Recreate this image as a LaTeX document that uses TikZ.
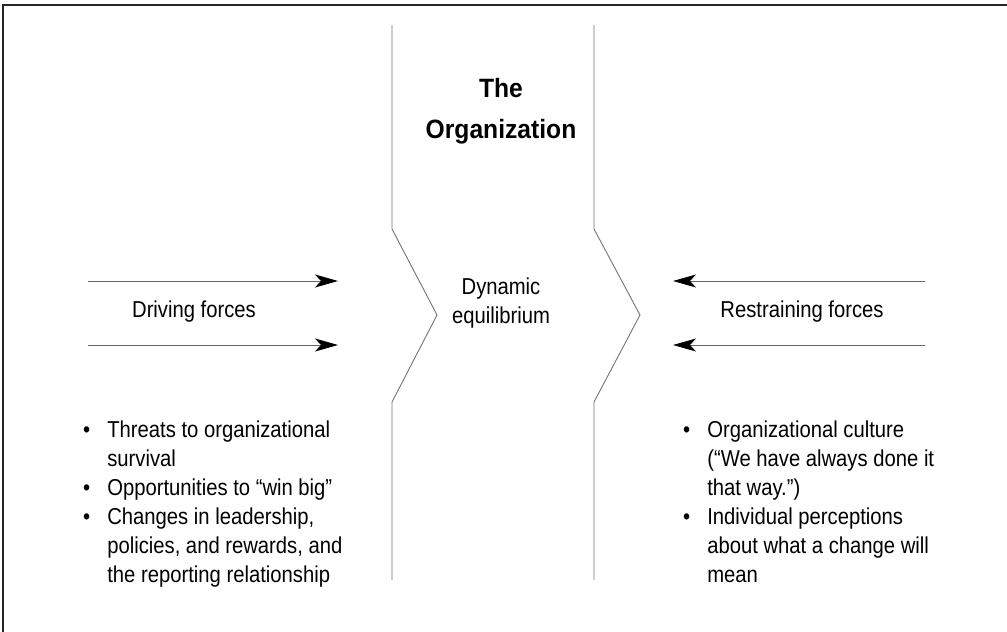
\documentclass[tikz,border=0pt]{standalone}
\usepackage{fontspec}
\setmainfont[FakeStretch=0.88]{Liberation Sans}
\newfontfamily\titlefont[FakeStretch=0.93]{Liberation Sans}
\usetikzlibrary{arrows.meta}

\begin{document}
\begin{tikzpicture}[
x=1pt, y=-1pt,
title/.style={font=\titlefont\bfseries\fontsize{26.5}{41}\selectfont, align=center, inner sep=0pt},
label/.style={font=\fontsize{23}{29}\selectfont, align=center, inner sep=0pt},
list/.style={font=\fontsize{23}{29}\selectfont, anchor=base west, inner sep=0pt},
wall/.style={draw=black!55, line width=0.9pt},
arrow/.style={-{Stealth[length=23pt, width=13pt, inset=6pt, color=black]}, draw=black!60, line width=1pt}
]

\useasboundingbox (0,0) rectangle (1007,632);
\draw[line width=2pt, black!85] (3,632) -- (3,5) -- (1007,5);

\draw[wall] (392,25) -- (392,229) -- (437,315) -- (392,402) -- (392,580);
\draw[wall] (594,25) -- (594,229) -- (640,315) -- (594,402) -- (594,580);

\node[title] (org) at (501,111) {The\\Organization};
\node[label] (equil) at (501,303) {Dynamic\\equilibrium};
\node[label] (driving) at (194,312) {Driving forces};
\node[label] (restraining) at (802,312) {Restraining forces};

\coordinate (dfrom1) at (88,281);
\coordinate (dto1) at (338,281);
\coordinate (dfrom2) at (88,345);
\coordinate (dto2) at (338,345);
\coordinate (rfrom1) at (925,281);
\coordinate (rto1) at (673,281);
\coordinate (rfrom2) at (925,345);
\coordinate (rto2) at (673,345);

\draw[arrow] (dfrom1) -- (dto1);
\draw[arrow] (dfrom2) -- (dto2);
\draw[arrow] (rfrom1) -- (rto1);
\draw[arrow] (rfrom2) -- (rto2);

\node[list] (drivers) at (83,437) {\begin{tabular}[t]{@{}l@{\hspace{17pt}}l@{}}
\textbullet & Threats to organizational\\
 & survival\\
\textbullet & Opportunities to “win big”\\
\textbullet & Changes in leadership,\\
 & policies, and rewards, and\\
 & the reporting relationship
\end{tabular}};
\node[list] (restrainers) at (683,437) {\begin{tabular}[t]{@{}l@{\hspace{17pt}}l@{}}
\textbullet & Organizational culture\\
 & (“We have always done it\\
 & that way.”)\\
\textbullet & Individual perceptions\\
 & about what a change will\\
 & mean
\end{tabular}};

\end{tikzpicture}
\end{document}
